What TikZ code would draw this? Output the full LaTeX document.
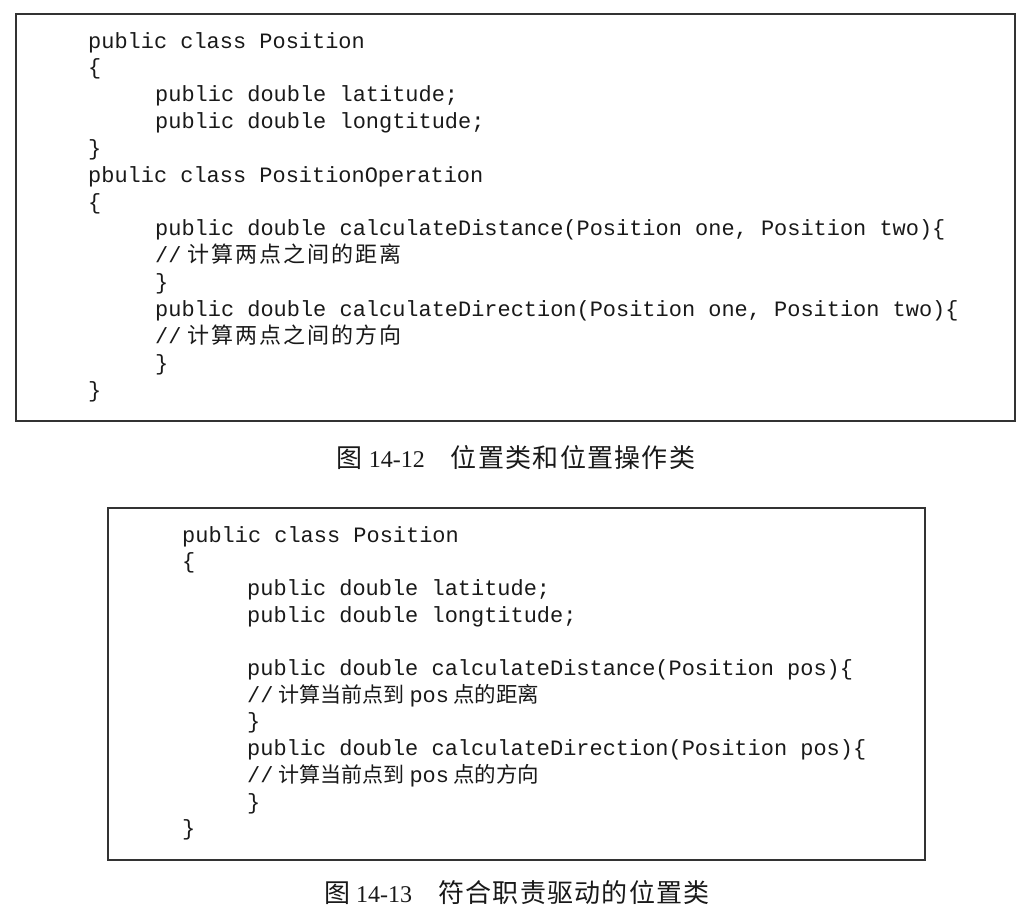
\documentclass[tikz,border=0pt]{standalone}
\usepackage{fontspec}
\setmainfont{Liberation Serif}
\setmonofont{Liberation Mono}
\newfontfamily\cjkfont{Noto Sans CJK SC}
\newfontfamily\cjkwide[LetterSpace=9]{Noto Sans CJK SC}
\newfontfamily\cjkcap[LetterSpace=5]{Noto Sans CJK SC}

\newcommand\cmtA[1]{//\hspace{6pt}{\cjkwide\fontsize{22}{24}\selectfont #1}}
\newcommand\cmtB[1]{//\hspace{5pt}{\cjkfont\fontsize{21}{24}\selectfont 计算当前点到}\hspace{5pt}pos\hspace{4pt}{\cjkfont\fontsize{21.5}{24}\selectfont 点的#1}}
\newcommand\capcjk[1]{{\cjkcap\fontsize{26}{28}\selectfont #1}}
\newcommand\capnum[1]{{\fontsize{24}{28}\selectfont #1}}

\tikzset{
  codeline/.style={anchor=base west, inner sep=0pt, text=black!90,
    font=\ttfamily\fontsize{21.95}{26}\selectfont},
  codebox/.style={draw=black!80, line width=2pt, inner sep=0pt, anchor=north west},
  figcaption/.style={anchor=base, inner sep=0pt, text=black!90},
}

\begin{document}
\begin{tikzpicture}[x=1pt, y=-1pt]
\useasboundingbox (0,0) rectangle (1032,922);
\fill[white] (0,0) rectangle (1032,922);

% ---------- top box ----------
\node[codebox, minimum width=999pt, minimum height=407pt] (boxA) at (15,13) {};
\node[codeline] (a0)  at (88, 48.00) {public class Position};
\node[codeline] (a1)  at (88, 74.85) {\{};
\node[codeline] (a2)  at (155,101.70) {public double latitude;};
\node[codeline] (a3)  at (155,128.55) {public double longtitude;};
\node[codeline] (a4)  at (88, 155.40) {\}};
\node[codeline] (a5)  at (88, 182.25) {pbulic class PositionOperation};
\node[codeline] (a6)  at (88, 209.10) {\{};
\node[codeline] (a7)  at (155,235.95) {public double calculateDistance(Position one, Position two)\{};
\node[codeline] (a8)  at (155,262.80) {\cmtA{计算两点之间的距离}};
\node[codeline] (a9)  at (155,289.65) {\}};
\node[codeline] (a10) at (155,316.50) {public double calculateDirection(Position one, Position two)\{};
\node[codeline] (a11) at (155,343.35) {\cmtA{计算两点之间的方向}};
\node[codeline] (a12) at (155,370.20) {\}};
\node[codeline] (a13) at (88, 397.05) {\}};

\node[figcaption] (capA) at (516,467) {\capcjk{图}\hspace{6pt}\capnum{14-12}\hspace{26pt}\capcjk{位置类和位置操作类}};

% ---------- bottom box ----------
\node[codebox, minimum width=817pt, minimum height=352pt] (boxB) at (107,507) {};
\node[codeline] (b0)  at (182,542.0) {public class Position};
\node[codeline] (b1)  at (182,568.7) {\{};
\node[codeline] (b2)  at (247,595.4) {public double latitude;};
\node[codeline] (b3)  at (247,622.1) {public double longtitude;};
\node[codeline] (b5)  at (247,675.5) {public double calculateDistance(Position pos)\{};
\node[codeline] (b6)  at (247,702.2) {\cmtB{距离}};
\node[codeline] (b7)  at (247,728.9) {\}};
\node[codeline] (b8)  at (247,755.6) {public double calculateDirection(Position pos)\{};
\node[codeline] (b9)  at (247,782.3) {\cmtB{方向}};
\node[codeline] (b10) at (247,809.0) {\}};
\node[codeline] (b11) at (182,835.7) {\}};

\node[figcaption] (capB) at (517,902) {\capcjk{图}\hspace{6pt}\capnum{14-13}\hspace{26pt}\capcjk{符合职责驱动的位置类}};
\end{tikzpicture}
\end{document}
